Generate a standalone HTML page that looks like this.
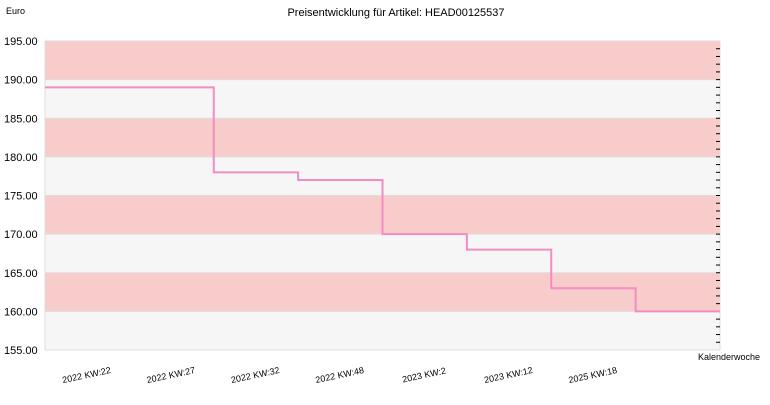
<!DOCTYPE html>
<html><head><meta charset="utf-8"><style>
body{margin:0;background:#fff;font-family:"Liberation Sans",sans-serif}
svg text{font-family:"Liberation Sans",sans-serif;fill:#000}
</style></head><body>
<svg id="chart" width="770" height="400" xmlns="http://www.w3.org/2000/svg">
<text x="396" y="16" font-size="11" text-anchor="middle">Preisentwicklung für Artikel: HEAD00125537</text>
<text x="6" y="14" font-size="9">Euro</text>
<text x="698" y="360" font-size="9">Kalenderwoche</text>
<g id="bands"></g><g id="yticks"></g><g id="xlabels"></g><g id="series"></g>
</svg>
<script>
const categories=["2022 KW:22","2022 KW:27","2022 KW:32","2022 KW:48","2023 KW:2","2023 KW:12","2025 KW:18",""];
const prices=[189,189,178,177,170,168,163,160];
const yTicks=[155,160,165,170,175,180,185,190,195];
const NS="http://www.w3.org/2000/svg";
const X0=45,X1=720,Y0=350,Y1=41,YMIN=155,YMAX=195;
const n=categories.length,bw=(X1-X0)/n;
const y=v=>Y0-(v-YMIN)/(YMAX-YMIN)*(Y0-Y1);
const xB=i=>X0+i*bw;
function mk(t,a,p){const e=document.createElementNS(NS,t);for(const k in a)e.setAttribute(k,a[k]);p.appendChild(e);return e;}
const bands=document.getElementById('bands');
for(let i=0;i<yTicks.length-1;i++){
 const r=mk('rect',{x:X0,y:y(yTicks[i+1]),width:X1-X0,height:y(yTicks[i])-y(yTicks[i+1]),fill:i%2?'#f9cccc':'#f6f6f6'},bands);
 
 
}
const yt=document.getElementById('yticks');
yTicks.forEach(v=>{
 const l=mk('line',{x1:X0,x2:X1,y1:y(v),y2:y(v),stroke:'#dddddd','stroke-width':1},yt);
 
 
 const t=mk('text',{x:4,y:y(v)+4,'font-size':11},yt);t.textContent=v.toFixed(2);
 
 
});
mk('line',{x1:X0,x2:X0,y1:Y1,y2:Y0,stroke:'#dddddd'},yt);
mk('line',{x1:X1,x2:X1,y1:Y1,y2:Y0,stroke:'#dddddd'},yt);
for(let v=YMIN+1;v<YMAX;v++){mk('line',{x1:X1-4,x2:X1,y1:y(v),y2:y(v),stroke:'#000'},yt);}
const xl=document.getElementById('xlabels');
categories.forEach((c,i)=>{
 const cx=xB(i)+bw/2,t=mk('text',{x:cx,y:378,'font-size':9,fill:'#333','text-anchor':'middle',transform:`rotate(-12 ${cx} 378)`},xl);
 t.textContent=c;
 
 
});
let d=`M${X0},${y(prices[0])}`;
prices.forEach((p,i)=>{d+=` L${xB(i)},${y(p)} L${xB(i+1)},${y(p)}`;});
const path=mk('path',{d:d,fill:'none',stroke:'#f28cc2','stroke-width':2},document.getElementById('series'));


</script>
</body></html>
